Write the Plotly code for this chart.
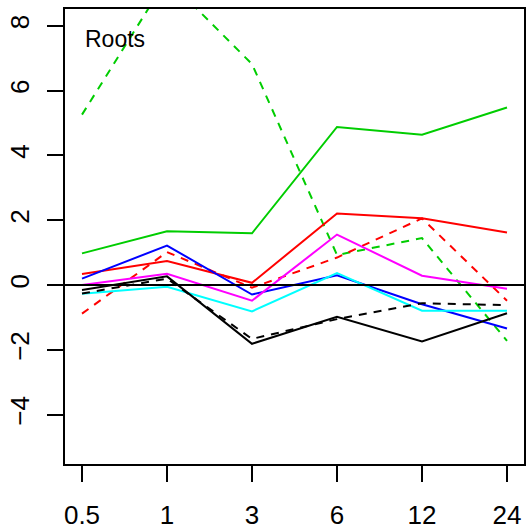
import plotly.graph_objects as go

# Time points (h)
times = ["0.5", "1", "3", "6", "12", "24"]

# Expression profiles (log2 fold change) in roots
green_solid = [0.98, 1.66, 1.60, 4.88, 4.64, 5.48]
green_dash = [5.26, 9.45, 6.82, 0.93, 1.45, -1.72]
red_solid = [0.34, 0.74, 0.07, 2.21, 2.06, 1.62]
red_dash = [-0.88, 1.02, -0.08, 0.85, 2.06, -0.48]
blue_solid = [0.20, 1.22, -0.29, 0.30, -0.59, -1.34]
magenta_solid = [0.00, 0.35, -0.48, 1.56, 0.29, -0.11]
cyan_solid = [-0.27, -0.05, -0.81, 0.37, -0.79, -0.79]
black_solid = [-0.15, 0.27, -1.81, -0.98, -1.74, -0.87]
black_dash = [-0.26, 0.20, -1.66, -1.05, -0.56, -0.62]

y_ticks = [-4, -2, 0, 2, 4, 6, 8]

DASH = "8px,7px"
series = [
    (green_solid, "#00CD00", "solid"),
    (green_dash, "#00CD00", DASH),
    (red_solid, "#FF0000", "solid"),
    (red_dash, "#FF0000", DASH),
    (blue_solid, "#0000FF", "solid"),
    (magenta_solid, "#FF00FF", "solid"),
    (cyan_solid, "#00FFFF", "solid"),
    (black_solid, "#000000", "solid"),
    (black_dash, "#000000", DASH),
]

fig = go.Figure()
for vals, col, dash in series:
    fig.add_trace(go.Scatter(
        x=times, y=vals, mode="lines",
        line=dict(color=col, width=2, dash=dash),
        showlegend=False, hoverinfo="skip",
    ))

# reference line at zero
fig.add_shape(type="line", xref="paper", yref="y", x0=0, x1=1, y0=0, y1=0,
              line=dict(color="black", width=2))

fig.add_annotation(text="Roots", xref="paper", yref="paper", x=0.04, y=0.934,
                   xanchor="left", yanchor="middle", showarrow=False,
                   font=dict(size=23, color="black"))

font = dict(family="Liberation Sans, Arial, sans-serif", size=26, color="black")
fig.update_layout(
    width=528, height=532,
    margin=dict(l=65, r=2, t=9, b=62),
    paper_bgcolor="white", plot_bgcolor="white",
    font=font,
    xaxis=dict(
        type="category", categoryorder="array", categoryarray=times,
        range=[-0.2, 5.2], showgrid=False, zeroline=False,
        showline=True, mirror=True, linecolor="black", linewidth=1.8,
        ticks="outside", ticklen=16, tickwidth=1.5, tickcolor="black",
        ticklabelstandoff=11,
    ),
    yaxis=dict(
        range=[-5.52, 8.52], tickvals=y_ticks, ticktext=[str(v).replace("-", "\u2212") for v in y_ticks],
        tickangle=-90, showgrid=False, zeroline=False,
        showline=True, mirror=True, linecolor="black", linewidth=1.8,
        ticks="outside", ticklen=16, tickwidth=1.5, tickcolor="black",
        ticklabelstandoff=8,
    ),
)

fig.write_html("out.html")
